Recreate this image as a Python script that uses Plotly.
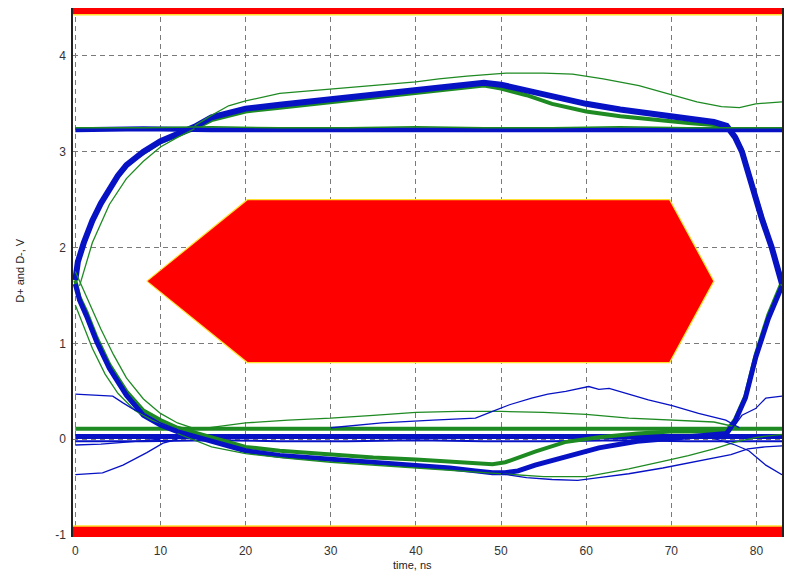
import plotly.graph_objects as go

# ---------------- data ----------------
x_ticks = [0, 10, 20, 30, 40, 50, 60, 70, 80]
y_ticks = [-1, 0, 1, 2, 3, 4]

# eye mask (hexagon) and the two forbidden bars
mask_x = [8.4, 20.2, 69.8, 75.0, 69.8, 20.2, 8.4]
mask_y = [1.65, 2.5, 2.5, 1.65, 0.8, 0.8, 1.65]
top_bar_x = [-0.27, 83, 83, -0.27, -0.27]
top_bar_y = [4.43, 4.43, 4.52, 4.52, 4.43]
bot_bar_x = [-0.27, 83, 83, -0.27, -0.27]
bot_bar_y = [-1.02, -1.02, -0.905, -0.905, -1.02]

# flat high / low levels
flat_x = [0, 8, 16, 24, 32, 40, 48, 56, 64, 72, 80, 83]
hi_blue = [3.23, 3.24, 3.23, 3.23, 3.24, 3.23, 3.24, 3.23, 3.23, 3.24, 3.23, 3.23]
hi_green = [3.25, 3.25, 3.26, 3.25, 3.25, 3.26, 3.25, 3.25, 3.26, 3.25, 3.25, 3.25]
lo_green = [0.11, 0.11, 0.12, 0.11, 0.11, 0.12, 0.11, 0.11, 0.12, 0.11, 0.11, 0.11]
lo_blue = [0.03, 0.03, 0.02, 0.03, 0.03, 0.02, 0.03, 0.03, 0.02, 0.03, 0.03, 0.03]
lo_blue2 = [-0.02, -0.02, -0.01, -0.02, -0.02, -0.01, -0.02, -0.02, -0.01, -0.02, -0.02, -0.02]

# upper envelope: rising edge, hump, falling edge
env_hi_x = [0, 0.3, 1, 2, 3, 4, 5, 6, 7, 8, 10, 12, 14, 16, 20, 24, 30, 36, 42, 46,
            48, 50, 53, 56, 60, 64, 68, 72, 75, 76.5, 77.5, 78.3, 79.4, 80.6, 81.8, 83]
env_hi_blue = [1.66, 1.85, 2.05, 2.28, 2.46, 2.62, 2.75, 2.86, 2.94, 3.0, 3.11, 3.18, 3.26,
               3.36, 3.45, 3.49, 3.55, 3.61, 3.66, 3.71, 3.72, 3.70, 3.64, 3.57, 3.50, 3.44,
               3.39, 3.35, 3.31, 3.27, 3.15, 3.0, 2.65, 2.31, 2.0, 1.62]
env_hi_green = [1.66, 1.84, 2.04, 2.27, 2.45, 2.61, 2.74, 2.85, 2.93, 2.99, 3.10, 3.17, 3.24,
                3.33, 3.42, 3.46, 3.52, 3.58, 3.63, 3.68, 3.69, 3.66, 3.59, 3.50, 3.42, 3.37,
                3.33, 3.30, 3.28, 3.26, 3.16, 3.02, 2.68, 2.34, 2.03, 1.66]

# lower envelope: falling edge, trough, rising edge
env_lo_x = [0, 0.5, 1.3, 2.5, 4, 6, 8, 10, 12, 16, 20, 24, 30, 35, 40, 44, 47, 49, 50.5,
            52, 54, 57.5, 61.5, 66, 70, 74, 76.5, 77.5, 78.7, 79.9, 81.4, 83]
env_lo_blue = [1.62, 1.45, 1.29, 1.02, 0.74, 0.46, 0.25, 0.15, 0.08, -0.02, -0.12, -0.17,
               -0.21, -0.24, -0.27, -0.30, -0.33, -0.35, -0.35, -0.33, -0.27, -0.18, -0.09,
               -0.02, 0.01, 0.03, 0.06, 0.19, 0.43, 0.85, 1.26, 1.6]
env_lo_green = [1.66, 1.48, 1.33, 1.06, 0.78, 0.50, 0.30, 0.20, 0.12, 0.02, -0.08, -0.12,
                -0.16, -0.19, -0.21, -0.23, -0.25, -0.26, -0.24, -0.19, -0.13, -0.03, 0.02,
                0.06, 0.08, 0.08, 0.09, 0.21, 0.45, 0.88, 1.30, 1.64]

# thin green lines on the left edges
g_fall_a_x = [0, 1, 2, 3.5, 5, 7, 9, 11, 13]
g_fall_a_y = [1.40, 1.18, 0.95, 0.68, 0.48, 0.30, 0.20, 0.14, 0.10]
g_fall_b_x = [0, 1.5, 3, 4.5, 6, 8, 10, 12, 14]
g_fall_b_y = [1.75, 1.45, 1.15, 0.88, 0.64, 0.42, 0.27, 0.17, 0.11]
g_rise_b_x = [0.5, 2, 4, 6, 8, 10, 12, 14]
g_rise_b_y = [1.60, 2.05, 2.45, 2.72, 2.90, 3.05, 3.15, 3.24]

# thin green outlier above the hump
g_hi_out_x = [14, 16, 18, 20, 24, 28, 34, 40, 42.7, 46, 50.6, 55, 58.4, 62, 66.2, 70.1,
              73, 75.9, 78, 79.9, 82.6, 83]
g_hi_out_y = [3.27, 3.38, 3.48, 3.53, 3.61, 3.64, 3.68, 3.73, 3.76, 3.79, 3.82, 3.82, 3.81,
              3.76, 3.69, 3.59, 3.52, 3.47, 3.46, 3.50, 3.52, 3.52]

# thin outliers in the low region
g_lo_out_x = [12, 16, 20, 25, 30, 35, 40, 45, 50, 55, 60, 62, 65, 69, 72, 75, 77.5, 80, 83]
g_lo_out_y = [0.06, -0.08, -0.15, -0.20, -0.24, -0.27, -0.30, -0.33, -0.36, -0.39, -0.39,
              -0.36, -0.31, -0.23, -0.17, -0.10, -0.03, 0.02, 0.05]
g_lo_hi_x = [14, 20, 25, 30, 35, 40, 45, 50, 55, 60, 65, 70, 75, 78]
g_lo_hi_y = [0.10, 0.17, 0.20, 0.22, 0.25, 0.28, 0.29, 0.29, 0.28, 0.26, 0.22, 0.20, 0.18, 0.12]

b_lo_out_x = [50, 53, 56, 59, 61.5, 65, 69, 73, 77, 79, 81, 83]
b_lo_out_y = [-0.36, -0.40, -0.42, -0.43, -0.40, -0.36, -0.30, -0.23, -0.16, -0.10, -0.08, -0.07]

b_bump_x = [30, 36, 42, 47, 49, 51, 53.6, 55.5, 57.6, 60.3, 61.5, 62.7, 65.4, 67.3, 70.1,
            73.2, 76.4, 78]
b_bump_y = [0.12, 0.17, 0.20, 0.22, 0.29, 0.36, 0.43, 0.47, 0.50, 0.55, 0.52, 0.53, 0.46,
            0.41, 0.35, 0.27, 0.20, 0.12]

b_l3_x = [0, 3, 4.4, 5.6, 6.7, 8.4, 10, 12]
b_l3_y = [0.47, 0.46, 0.45, 0.38, 0.32, 0.25, 0.17, 0.10]
b_l6_x = [76.5, 77.5, 78.3, 79.9, 81.1, 83]
b_l6_y = [0.08, 0.15, 0.25, 0.32, 0.43, 0.45]
b_l4_x = [0, 1.5, 3.2, 5.6, 8.4, 10.3, 12]
b_l4_y = [-0.37, -0.36, -0.35, -0.27, -0.14, -0.04, 0.00]
b_l7_x = [75, 77.5, 79.1, 81.1, 83]
b_l7_y = [0.01, -0.06, -0.12, -0.27, -0.37]
b_l9_x = [0, 3, 6, 10]
b_l9_y = [-0.06, -0.05, -0.03, 0.0]

BLUE = "#0712C4"
GREEN = "#1E8A22"
RED = "#FF0000"
YELLOW = "#FFE030"

fig = go.Figure()

def poly(x, y, fill, line_color, lw):
    fig.add_trace(go.Scatter(x=x, y=y, mode="lines", fill="toself", fillcolor=fill,
                             line=dict(color=line_color, width=lw), hoverinfo="skip"))

def line(x, y, color, w):
    fig.add_trace(go.Scatter(x=x, y=y, mode="lines", line=dict(color=color, width=w),
                             hoverinfo="skip"))

# mask and bars
poly(mask_x, mask_y, RED, YELLOW, 1.2)
poly(top_bar_x, top_bar_y, RED, RED, 0)
line([top_bar_x[0], top_bar_x[1]], [top_bar_y[0], top_bar_y[1]], YELLOW, 1.5)
poly(bot_bar_x, bot_bar_y, RED, RED, 0)
line([bot_bar_x[2], bot_bar_x[3]], [bot_bar_y[2], bot_bar_y[3]], YELLOW, 1.5)

# wide bundles
line(flat_x, lo_green, GREEN, 4)
line(flat_x, lo_blue, BLUE, 5)
line(flat_x, lo_blue2, BLUE, 2)
line(env_lo_x, env_lo_green, GREEN, 4)
line(env_lo_x, env_lo_blue, BLUE, 5)
line(env_hi_x, env_hi_green, GREEN, 4)
line(env_hi_x, env_hi_blue, BLUE, 6)
line(flat_x, hi_blue, BLUE, 5)
line(flat_x, hi_green, GREEN, 1.5)

# thin lines
for xs, ys in [(g_fall_a_x, g_fall_a_y), (g_fall_b_x, g_fall_b_y), (g_rise_b_x, g_rise_b_y),
               (g_hi_out_x, g_hi_out_y), (g_lo_out_x, g_lo_out_y), (g_lo_hi_x, g_lo_hi_y)]:
    line(xs, ys, GREEN, 1.3)
for xs, ys in [(b_lo_out_x, b_lo_out_y), (b_bump_x, b_bump_y), (b_l3_x, b_l3_y),
               (b_l6_x, b_l6_y), (b_l4_x, b_l4_y), (b_l7_x, b_l7_y), (b_l9_x, b_l9_y)]:
    line(xs, ys, BLUE, 1.3)

tickfont = dict(family="Liberation Sans, Arial, sans-serif", size=12, color="#333333")

# the page body adds an 8 px margin, so the figure is 8 px smaller and shifted
fig.update_layout(
    width=794, height=569,
    margin=dict(l=65, r=20, t=0, b=40),
    plot_bgcolor="white", paper_bgcolor="white",
    showlegend=False,
    xaxis=dict(range=[-0.27, 83], tickvals=x_ticks, ticktext=[str(v) for v in x_ticks],
               showgrid=True, gridcolor="#7a7a7a", griddash="5px,4px", gridwidth=1,
               zeroline=False, showline=False, ticks="outside", ticklen=3,
               tickcolor="rgba(0,0,0,0)", tickfont=tickfont),
    yaxis=dict(range=[-1.02, 4.5], tickvals=y_ticks, ticktext=[str(v) for v in y_ticks],
               showgrid=True, gridcolor="#7a7a7a", griddash="5px,4px", gridwidth=1,
               zeroline=False, showline=True, linecolor="#222222", linewidth=1.5,
               mirror=True, ticks="outside", ticklen=3, tickcolor="rgba(0,0,0,0)",
               tickfont=tickfont),
    annotations=[
        dict(text="time, ns", xref="paper", yref="paper", x=0.4795, y=-0.053,
             xanchor="center", yanchor="middle", showarrow=False,
             font=dict(family="Liberation Sans, Arial, sans-serif", size=11, color="#222")),
        dict(text="D+ and D-, V", xref="paper", yref="paper", x=-0.075, y=0.505,
             xanchor="center", yanchor="middle", showarrow=False, textangle=-90,
             font=dict(family="Liberation Sans, Arial, sans-serif", size=11, color="#222")),
    ],
)

fig.write_html("out.html")
